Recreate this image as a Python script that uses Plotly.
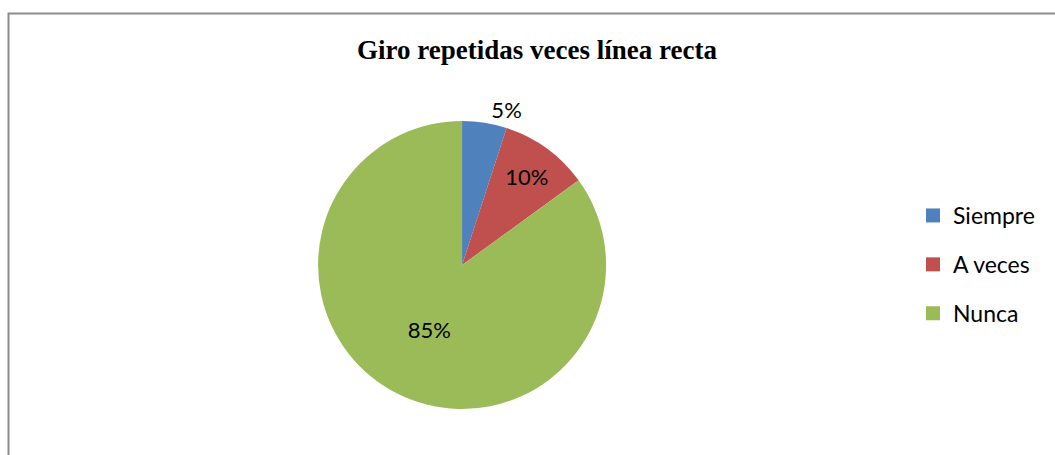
import plotly.graph_objects as go

labels = ["Siempre", "A veces", "Nunca"]
values = [5, 10, 85]
colors = ["#4F81BD", "#C0504D", "#9BBB59"]
text_pos = ["outside", "inside", "inside"]
title = "Giro repetidas veces línea recta"

W, H = 1055, 455

fig = go.Figure()
fig.add_trace(go.Pie(
    labels=labels, values=values, sort=False, direction="clockwise", rotation=0,
    marker=dict(colors=colors, line=dict(width=0)),
    texttemplate="%{percent:.0%}", textposition=text_pos,
    insidetextorientation="horizontal",
    textfont=dict(family="Lato, Carlito, sans-serif", size=22, color="black"),
    domain=dict(x=[0.2, 0.676], y=[1 - 409 / H, 1 - 121 / H]),
    showlegend=False, hoverinfo="label+percent",
))
for lab, col in zip(labels, colors):
    fig.add_trace(go.Scatter(
        x=[None], y=[None], mode="markers", name=lab, legendgroup=lab,
        marker=dict(symbol="square", size=14, color=col),
    ))

fig.update_layout(
    width=W, height=H, margin=dict(l=0, r=0, t=0, b=0),
    paper_bgcolor="white", plot_bgcolor="white",
    xaxis=dict(visible=False), yaxis=dict(visible=False),
    uniformtext=dict(minsize=22, mode="show"),
    title=dict(text="<b>" + title + "</b>", x=537 / W, y=1 - 50 / H,
               xanchor="center", yanchor="middle",
               font=dict(family="Liberation Serif, Times New Roman, serif", size=27, color="black")),
    legend=dict(x=913 / W, y=1 - 194 / H, xanchor="left", yanchor="top",
                font=dict(family="Lato, Carlito, sans-serif", size=23, color="black"),
                tracegroupgap=16, itemclick=False, bgcolor="rgba(0,0,0,0)"),
    shapes=[dict(type="rect", xref="paper", yref="paper",
                 x0=8.5 / W, x1=1.05, y0=-0.05, y1=1 - 13.5 / H,
                 line=dict(color="#8c8c8c", width=2))],
)

fig.write_html("out.html")
